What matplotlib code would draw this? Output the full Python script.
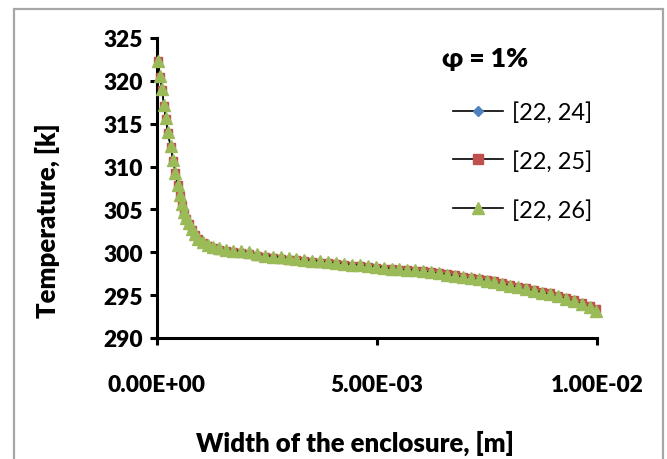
import matplotlib
matplotlib.use("Agg")
import matplotlib.pyplot as plt
from matplotlib.lines import Line2D
from matplotlib.patches import Rectangle
import numpy as np

plt.rcParams['font.family'] = ['Lato', 'DejaVu Sans']

# Width of the enclosure [m]
x_m = [0.00003, 0.00007, 0.00012, 0.00016, 0.00020, 0.00025, 0.00031, 0.00037, 0.00042, 0.00047,
       0.00052, 0.00057, 0.00062, 0.00067, 0.00073, 0.00079, 0.00086, 0.00094, 0.00105, 0.00116,
       0.00127, 0.00140, 0.00156, 0.00173, 0.00191, 0.00209, 0.00227, 0.00245, 0.00263, 0.00281,
       0.00299, 0.00317, 0.00335, 0.00353, 0.00371, 0.00389, 0.00407, 0.00425, 0.00443, 0.00461,
       0.00479, 0.00497, 0.00515, 0.00533, 0.00551, 0.00569, 0.00587, 0.00605, 0.00623, 0.00641,
       0.00659, 0.00677, 0.00695, 0.00713, 0.00731, 0.00749, 0.00767, 0.00785, 0.00803, 0.00821,
       0.00839, 0.00857, 0.00875, 0.00893, 0.00911, 0.00929, 0.00947, 0.00965, 0.00983, 0.00997]

T_24 = [322.2, 320.5, 318.8, 317.0, 315.5, 313.8, 312.2, 310.6, 309.1, 307.7,
        306.5, 305.4, 304.5, 303.8, 303.2, 302.5, 301.9, 301.4, 301.0, 300.65,
        300.4, 300.25, 300.1, 300.0, 299.9, 299.8, 299.55, 299.4, 299.3, 299.2,
        299.1, 299.0, 298.9, 298.8, 298.75, 298.65, 298.55, 298.45, 298.35, 298.3,
        298.2, 298.1, 298.0, 297.9, 297.85, 297.8, 297.75, 297.65, 297.55, 297.45,
        297.3, 297.15, 297.0, 296.9, 296.8, 296.65, 296.45, 296.25, 296.05, 295.85,
        295.65, 295.45, 295.3, 295.1, 294.85, 294.6, 294.3, 294.0, 293.6, 293.2]

T_25 = [322.3, 320.5, 318.9, 317.1, 315.6, 313.9, 312.3, 310.7, 309.2, 307.8,
        306.6, 305.5, 304.6, 303.9, 303.3, 302.6, 302.0, 301.5, 301.05, 300.7,
        300.45, 300.3, 300.15, 300.05, 299.95, 299.85, 299.6, 299.45, 299.35, 299.25,
        299.15, 299.05, 298.95, 298.85, 298.8, 298.7, 298.6, 298.5, 298.4, 298.35,
        298.25, 298.2, 298.1, 298.0, 297.95, 297.9, 297.85, 297.8, 297.7, 297.55,
        297.45, 297.3, 297.15, 297.0, 296.9, 296.75, 296.6, 296.4, 296.2, 296.0,
        295.8, 295.6, 295.4, 295.2, 294.95, 294.7, 294.4, 294.1, 293.75, 293.35]

T_26 = [322.3, 320.6, 319.0, 317.2, 315.7, 314.0, 312.4, 310.8, 309.3, 307.9,
        306.7, 305.6, 304.7, 304.0, 303.4, 302.7, 302.1, 301.6, 301.2, 300.85,
        300.6, 300.45, 300.3, 300.2, 300.1, 300.0, 299.75, 299.6, 299.5, 299.4,
        299.3, 299.2, 299.1, 299.0, 298.95, 298.85, 298.75, 298.65, 298.55, 298.5,
        298.4, 298.3, 298.2, 298.1, 298.0, 297.95, 297.9, 297.8, 297.7, 297.55,
        297.4, 297.25, 297.1, 296.95, 296.85, 296.7, 296.5, 296.3, 296.1, 295.9,
        295.7, 295.5, 295.3, 295.1, 294.85, 294.6, 294.3, 294.0, 293.6, 293.2]

series_labels = ['[22, 24]', '[22, 25]', '[22, 26]']
legend_title = 'φ = 1%'
x_ticks = [0.0, 0.005, 0.01]
x_tick_labels = ['0.00E+00', '5.00E-03', '1.00E-02']
y_ticks = [290, 295, 300, 305, 310, 315, 320, 325]

colors = ['#4F81BD', '#C0504D', '#9BBB59']
markers = ['D', 's', '^']
msizes = [4.0, 6.3, 8.0]

W, H = 667, 460
fig = plt.figure(figsize=(W / 100, H / 100), dpi=100)
fig.patch.set_facecolor('white')

# outer chart frame
fig.add_artist(Rectangle((14 / W, -0.05), (663 - 14) / W, 1.05 - 10 / H,
                         transform=fig.transFigure, fill=False,
                         edgecolor='#a6a6a6', linewidth=1.6, zorder=0))

ax = fig.add_axes([157 / W, 1 - 339 / H, 440 / W, 300 / H])

for T, c, m, ms, lab in zip([T_24, T_25, T_26], colors, markers, msizes, series_labels):
    ax.plot(x_m, T, color='black', linewidth=1.0, marker=m, markersize=ms,
            markerfacecolor=c, markeredgecolor=c, label=lab, clip_on=False, zorder=3)

ax.set_xlim(0, 0.01)
ax.set_ylim(290, 325)
ax.set_xticks(x_ticks)
ax.set_xticklabels(x_tick_labels)
ax.set_yticks(y_ticks)

for s in ['top', 'right']:
    ax.spines[s].set_visible(False)
for s in ['left', 'bottom']:
    ax.spines[s].set_linewidth(2.2)
    ax.spines[s].set_zorder(2)

ax.tick_params(axis='both', direction='out', length=5, width=2.2)
ax.tick_params(axis='x', pad=21)
ax.tick_params(axis='y', pad=5)
for lbl in ax.get_xticklabels() + ax.get_yticklabels():
    lbl.set_fontweight('heavy')
    lbl.set_fontsize(16.3)

ax.set_ylabel('Temperature, [k]', fontsize=18.5, fontweight='heavy')
ax.yaxis.set_label_coords((47 - 157) / 440, (339 - 221) / 300)
ax.set_xlabel('Width of the enclosure, [m]', fontsize=18.5, fontweight='heavy')
ax.xaxis.set_label_coords((355 - 157) / 440, (339 - 443) / 300)
ax.xaxis.label.set_va('center')
ax.yaxis.label.set_va('center')

handles = [Line2D([0], [0], color='black', linewidth=1.2, marker=m, markersize=ms,
                  markerfacecolor=c, markeredgecolor=c)
           for c, m, ms in zip(colors, markers, [5.5, 7, 8.5])]
fig.legend(handles, series_labels, loc='upper left',
           bbox_to_anchor=(453 / W, 1 - 102 / H), bbox_transform=fig.transFigure,
           frameon=False, fontsize=17, handlelength=2.1, handletextpad=0.4,
           labelspacing=1.15, borderpad=0, borderaxespad=0)

fig.text(485 / W, 1 - 59 / H, legend_title, fontsize=19, fontweight='heavy',
         ha='center', va='center')

fig.savefig('out.png', dpi=100, facecolor='white')
